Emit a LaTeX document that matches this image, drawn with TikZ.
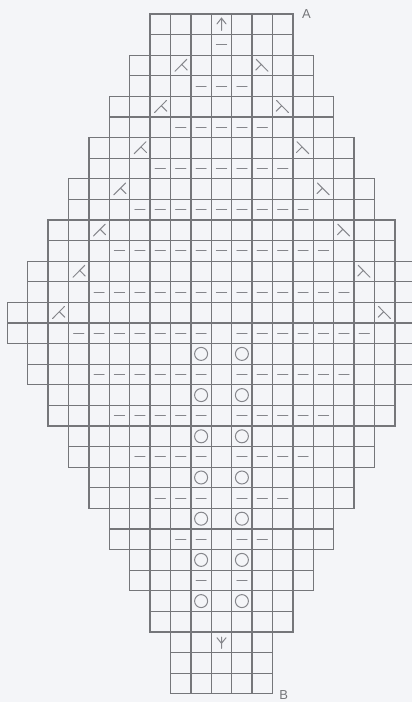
\documentclass[tikz,border=0pt]{standalone}
\usepackage{fontspec}
\setsansfont{Liberation Sans}
\usepackage{xcolor}
\usepackage{tikz}
\definecolor{paper}{HTML}{F4F5F8}
\definecolor{rule}{HTML}{75767A}
\definecolor{ink}{HTML}{85868B}
\begin{document}
\begin{tikzpicture}[
  x=20.4pt,y=20.6pt,
  cell/.style={draw=rule,line width=1.3pt},
  sym/.style={draw=ink,line width=1pt,line cap=round},
  lbl/.style={text=rule,font=\sffamily\fontsize{13}{13}\selectfont,inner sep=0pt}
]
\fill[paper] (-0.358,0.68) rectangle (19.838,-33.398);
\useasboundingbox (-0.358,0.68) rectangle (19.838,-33.398);
\clip (-0.358,0.68) rectangle (19.838,-33.398);
% grid: row r runs from column a to column 20-a
\foreach \r in {1,...,33}{
  \pgfmathtruncatemacro\a{\r<17 ? 7-int((\r-1)/2) : (\r<31 ? int((\r-15)/2) : 8)}
  \pgfmathtruncatemacro\b{20-\a}
  \foreach \c in {\a,...,\b} \draw[cell] (\c,-\r) rectangle ++(1,1);
}
% decreases on the widening rows
\foreach \r in {3,5,...,15}{
  \pgfmathtruncatemacro\a{9-int((\r-1)/2)}
  \pgfmathtruncatemacro\b{11+int((\r-1)/2)}
  \draw[sym] (\a+0.22,-\r+0.22) -- (\a+0.8,-\r+0.8) (\a+0.55,-\r+0.55) -- (\a+0.82,-\r+0.28);
  \draw[sym] (\b+0.78,-\r+0.22) -- (\b+0.2,-\r+0.8) (\b+0.45,-\r+0.55) -- (\b+0.18,-\r+0.28);
}
% purl rows
\foreach \r in {2,4,...,28}{
  \pgfmathtruncatemacro\a{\r<17 ? 10-int((\r-1)/2) : int((\r-9)/2)}
  \pgfmathtruncatemacro\b{20-\a}
  \foreach \c in {\a,...,\b}{
    \ifnum\r>15 \ifnum\c=10 \else \draw[sym] (\c+0.25,-\r+0.5) -- (\c+0.75,-\r+0.5); \fi
    \else \draw[sym] (\c+0.25,-\r+0.5) -- (\c+0.75,-\r+0.5); \fi
  }
}
% yarn overs
\foreach \r in {17,19,...,29}
  \foreach \c in {9,11} \draw[sym] (\c+0.5,-\r+0.5) circle[radius=6.5pt];
% centre stitches
\draw[sym] (10.5,-0.8) -- (10.5,-0.2) (10.28,-0.48) -- (10.5,-0.2) -- (10.72,-0.48);
\draw[sym] (10.5,-30.8) -- (10.5,-30.25) (10.28,-30.28) -- (10.5,-30.55) -- (10.72,-30.28);
\node[lbl] (markA) at (14.67,0) {A};
\node[lbl] (markB) at (13.55,-33.08) {B};
\end{tikzpicture}
\end{document}
